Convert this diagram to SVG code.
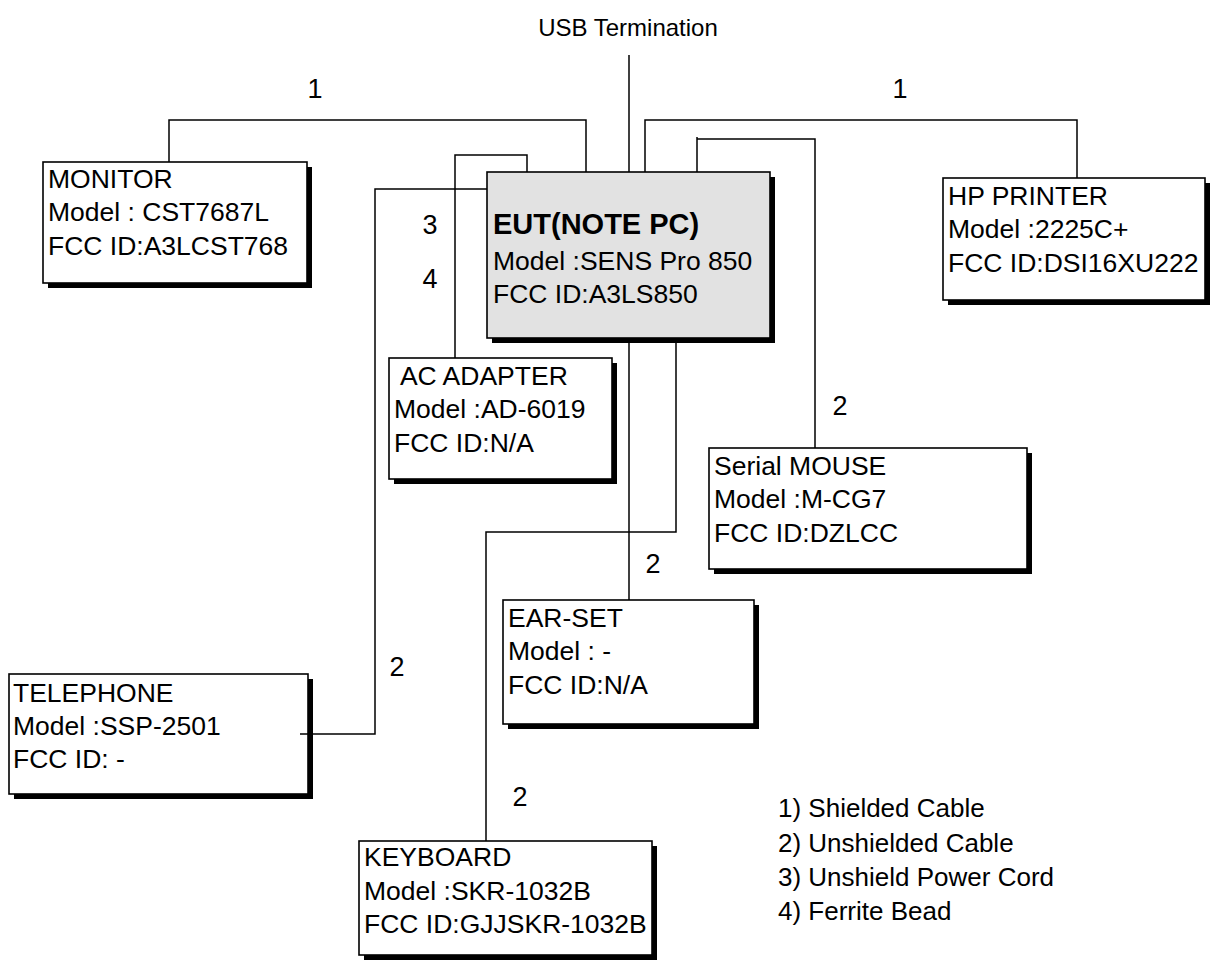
<svg xmlns="http://www.w3.org/2000/svg" width="1226" height="971" viewBox="0 0 1226 971">
<style>
text{font-family:"Liberation Sans",Arial,sans-serif;font-size:26.5px;fill:#000}
.title{font-weight:bold;font-size:29px}
.usb{font-size:24px}
.lbl{font-size:27px}
.leg{font-size:26px}
.box{fill:#fff;stroke:#000;stroke-width:1.6}
.eut{fill:#e2e2e2;stroke:#000;stroke-width:1.6}
.sh{fill:#000}
.wire{fill:none;stroke:#000;stroke-width:1.5}
</style>
<rect width="1226" height="971" fill="#fff"/>
<g id="monitor">
<rect class="sh" x="48" y="167" width="264" height="121"/>
<rect class="box" x="43" y="162" width="264" height="121"/>
<text x="48" y="188">MONITOR</text>
<text x="48" y="221">Model : CST7687L</text>
<text x="48" y="255">FCC ID:A3LCST768</text>
</g>
<g id="eut">
<rect class="sh" x="492" y="177" width="283" height="166"/>
<rect class="eut" x="487" y="172" width="283" height="166"/>
<text class="title" x="493" y="234">EUT(NOTE PC)</text>
<text x="493" y="270">Model :SENS Pro 850</text>
<text x="493" y="303">FCC ID:A3LS850</text>
</g>
<g id="printer">
<rect class="sh" x="948" y="183" width="262" height="122"/>
<rect class="box" x="943" y="178" width="262" height="122"/>
<text x="948" y="205">HP PRINTER</text>
<text x="948" y="238">Model :2225C+</text>
<text x="948" y="272">FCC ID:DSI16XU222</text>
</g>
<g id="acadapter">
<rect class="sh" x="394" y="363" width="223" height="121"/>
<rect class="box" x="389" y="358" width="223" height="121"/>
<text x="394" y="385" xml:space="preserve"> AC ADAPTER</text>
<text x="394" y="418">Model :AD-6019</text>
<text x="394" y="452">FCC ID:N/A</text>
</g>
<g id="mouse">
<rect class="sh" x="714" y="453" width="318" height="121"/>
<rect class="box" x="709" y="448" width="318" height="121"/>
<text x="714" y="475">Serial MOUSE</text>
<text x="714" y="508">Model :M-CG7</text>
<text x="714" y="542">FCC ID:DZLCC</text>
</g>
<g id="earset">
<rect class="sh" x="508" y="605" width="251" height="124"/>
<rect class="box" x="503" y="600" width="251" height="124"/>
<text x="508" y="627">EAR-SET</text>
<text x="508" y="660">Model : -</text>
<text x="508" y="694">FCC ID:N/A</text>
</g>
<g id="telephone">
<rect class="sh" x="14" y="679" width="299" height="120"/>
<rect class="box" x="9" y="674" width="299" height="120"/>
<text x="13" y="702">TELEPHONE</text>
<text x="13" y="735">Model :SSP-2501</text>
<text x="13" y="768">FCC ID: -</text>
</g>
<g id="keyboard">
<rect class="sh" x="364" y="846" width="293" height="114"/>
<rect class="box" x="359" y="841" width="293" height="114"/>
<text x="364" y="866">KEYBOARD</text>
<text x="364" y="900">Model :SKR-1032B</text>
<text x="364" y="933">FCC ID:GJJSKR-1032B</text>
</g>
<g id="connectors">
<path class="wire" d="M169,162 V120 H586 V172"/>
<path class="wire" d="M629,55 V172"/>
<path class="wire" d="M645,172 V120 H1077 V178"/>
<path class="wire" d="M697,172 V137 M697,139 H815 V448"/>
<path class="wire" d="M455,358 V155 H527 V172"/>
<path class="wire" d="M487,189 H375 V734 H300"/>
<path class="wire" d="M629,338 V600"/>
<path class="wire" d="M676,338 V532 H486 V841"/>
</g>
<g id="labels">
<text class="usb" x="628" y="36" text-anchor="middle">USB Termination</text>
<text class="lbl" x="315" y="98" text-anchor="middle">1</text>
<text class="lbl" x="900" y="98" text-anchor="middle">1</text>
<text class="lbl" x="430" y="234" text-anchor="middle">3</text>
<text class="lbl" x="430" y="288" text-anchor="middle">4</text>
<text class="lbl" x="840" y="415" text-anchor="middle">2</text>
<text class="lbl" x="653" y="573" text-anchor="middle">2</text>
<text class="lbl" x="397" y="676" text-anchor="middle">2</text>
<text class="lbl" x="520" y="806" text-anchor="middle">2</text>
</g>
<g id="legend">
<text class="leg" x="778" y="817">1) Shielded Cable</text>
<text class="leg" x="778" y="852">2) Unshielded Cable</text>
<text class="leg" x="778" y="886">3) Unshield Power Cord</text>
<text class="leg" x="778" y="920">4) Ferrite Bead</text>
</g>
</svg>
